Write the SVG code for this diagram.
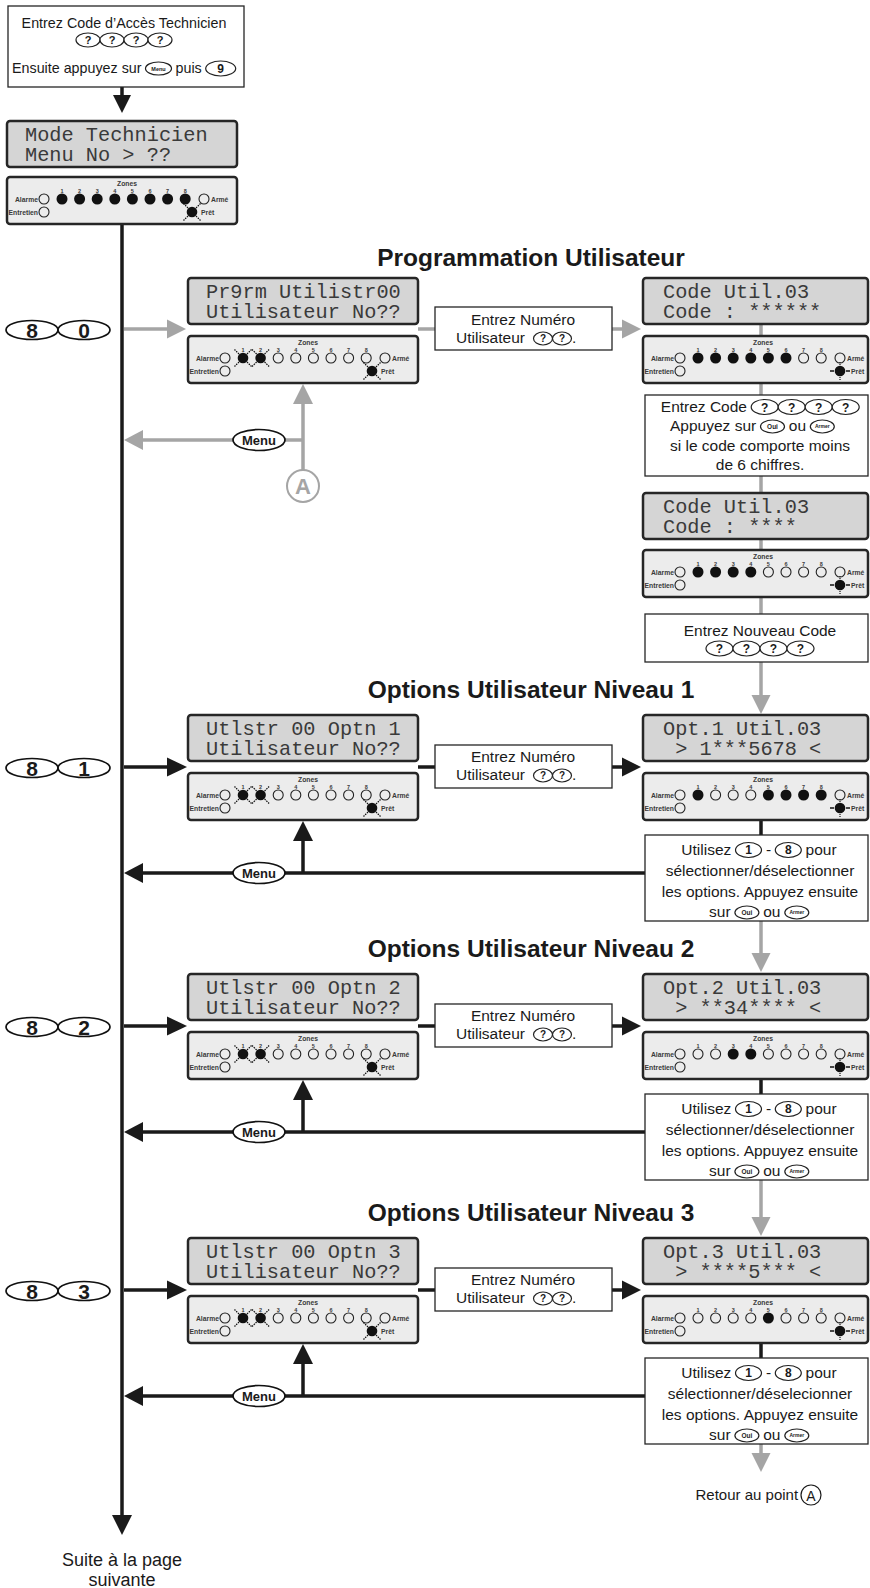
<svg xmlns="http://www.w3.org/2000/svg" width="870" height="1588" viewBox="0 0 870 1588">
<style>
.lcd{fill:#d5d5d5;stroke:#262626;stroke-width:2.5}
.pnl{fill:#ececec;stroke:#262626;stroke-width:2.5}
.lt{font-family:"Liberation Mono","DejaVu Sans Mono",monospace;font-size:20.3px;fill:#3a3a3a}
.box{fill:#fff;stroke:#262626;stroke-width:1.3}
.t{font-family:"Liberation Sans",Arial,sans-serif;font-size:15.5px;fill:#1a1a1a}
.ttl{font-family:"Liberation Sans",Arial,sans-serif;font-size:24.5px;font-weight:bold;fill:#1a1a1a;text-anchor:middle}
.key{fill:#fff;stroke:#222;stroke-width:1.2}
.bk{fill:#fff;stroke:#111;stroke-width:1.7}
.kt{font-family:"Liberation Sans",Arial,sans-serif;font-weight:bold;fill:#1a1a1a;text-anchor:middle}
.pl{font-family:"Liberation Sans",Arial,sans-serif;font-size:6.8px;font-weight:bold;fill:#3a3a3a}
.zn{font-family:"Liberation Sans",Arial,sans-serif;font-size:5.5px;font-weight:bold;fill:#3a3a3a;text-anchor:middle}
.cb{stroke:#1a1a1a;stroke-width:3.5;fill:none}
.cg{stroke:#a5a5a5;stroke-width:3.5;fill:none}
.ab{fill:#1a1a1a}
.ag{fill:#a5a5a5}
.mid{text-anchor:middle}
</style>
<defs>
<g id="pb">
<text class="pl" x="120" y="9" text-anchor="middle">Zones</text>
<text class="zn" x="55" y="15.5">1</text><text class="zn" x="72.6" y="15.5">2</text><text class="zn" x="90.2" y="15.5">3</text><text class="zn" x="107.8" y="15.5">4</text><text class="zn" x="125.4" y="15.5">5</text><text class="zn" x="143" y="15.5">6</text><text class="zn" x="160.6" y="15.5">7</text><text class="zn" x="178.2" y="15.5">8</text>
<text class="pl" x="31" y="24.5" text-anchor="end">Alarme</text>
<circle cx="37" cy="22" r="5" fill="none" stroke="#222" stroke-width="1.1"/>
<circle cx="197" cy="22" r="5" fill="none" stroke="#222" stroke-width="1.1"/>
<text class="pl" x="204" y="24.5">Armé</text>
<text class="pl" x="31" y="37.5" text-anchor="end">Entretien</text>
<circle cx="37" cy="35" r="5" fill="none" stroke="#222" stroke-width="1.1"/>
</g>
<g id="lf"><circle r="5.5" fill="#111"/></g>
<g id="lo"><circle r="5" fill="none" stroke="#222" stroke-width="1.1"/></g>
<g id="lx"><circle r="5.3" fill="#111"/><path d="M-4,-4 L-8.5,-8.5 M4,-4 L8.5,-8.5 M-4,4 L-8.5,8.5 M4,4 L8.5,8.5" stroke="#111" stroke-width="1.2" stroke-dasharray="1.5,1"/></g>
<g id="ls"><circle r="5.3" fill="#111"/><path d="M-6,0 H-10 M6,0 H10" stroke="#111" stroke-width="1.5"/><path d="M0,-6 V-9.5 M0,6 V9.5" stroke="#111" stroke-width="1.2" stroke-dasharray="1,1"/></g>
</defs>

<g id="connectors">
<line class="cb" x1="122" y1="87" x2="122" y2="96"/>
<polygon class="ab" points="113,95 122,113 131,95"/>
<line class="cb" x1="122" y1="225" x2="122" y2="1517"/>
<polygon class="ab" points="112,1515 122,1535 132,1515"/>
<!-- row 80 -->
<line class="cg" x1="124" y1="329" x2="170" y2="329"/>
<polygon class="ag" points="167,319.5 186,329 167,338.5"/>
<line class="cg" x1="418" y1="329" x2="435" y2="329"/>
<line class="cg" x1="612" y1="329" x2="625" y2="329"/>
<polygon class="ag" points="622,319.5 641,329 622,338.5"/>
<line class="cg" x1="233" y1="440" x2="140" y2="440"/>
<polygon class="ag" points="143,430 124,440 143,450"/>
<line class="cg" x1="285" y1="440" x2="303" y2="440"/>
<line class="cg" x1="303" y1="470" x2="303" y2="400"/>
<polygon class="ag" points="293,404 303,384 313,404"/>
<line class="cg" x1="761" y1="324" x2="761" y2="336"/>
<line class="cg" x1="761" y1="383" x2="761" y2="395"/>
<line class="cg" x1="761" y1="476" x2="761" y2="493"/>
<line class="cg" x1="761" y1="539" x2="761" y2="550"/>
<line class="cg" x1="761" y1="597" x2="761" y2="614"/>
<line class="cg" x1="761" y1="662" x2="761" y2="698"/>
<polygon class="ag" points="751.5,695 761,714 770.5,695"/>
<!-- level 1 -->
<line class="cb" x1="124" y1="767" x2="170" y2="767"/>
<polygon class="ab" points="167,757.5 187,767 167,776.5"/>
<line class="cb" x1="418" y1="767" x2="435" y2="767"/>
<line class="cb" x1="612" y1="767" x2="625" y2="767"/>
<polygon class="ab" points="622,757.5 641,767 622,776.5"/>
<line class="cb" x1="761" y1="819" x2="761" y2="835"/>
<line class="cb" x1="233" y1="873" x2="140" y2="873"/>
<polygon class="ab" points="143,863 124,873 143,883"/>
<line class="cb" x1="285" y1="873" x2="645" y2="873"/>
<line class="cb" x1="303" y1="873" x2="303" y2="838"/>
<polygon class="ab" points="293,841 303,821 313,841"/>
<line class="cg" x1="761" y1="921" x2="761" y2="956"/>
<polygon class="ag" points="751.5,953 761,972 770.5,953"/>
<!-- level 2 -->
<line class="cb" x1="124" y1="1026" x2="170" y2="1026"/>
<polygon class="ab" points="167,1016.5 187,1026 167,1035.5"/>
<line class="cb" x1="418" y1="1026" x2="435" y2="1026"/>
<line class="cb" x1="612" y1="1026" x2="625" y2="1026"/>
<polygon class="ab" points="622,1016.5 641,1026 622,1035.5"/>
<line class="cb" x1="761" y1="1078" x2="761" y2="1094"/>
<line class="cb" x1="233" y1="1132" x2="140" y2="1132"/>
<polygon class="ab" points="143,1122 124,1132 143,1142"/>
<line class="cb" x1="285" y1="1132" x2="645" y2="1132"/>
<line class="cb" x1="303" y1="1132" x2="303" y2="1097"/>
<polygon class="ab" points="293,1100 303,1080 313,1100"/>
<line class="cg" x1="761" y1="1180" x2="761" y2="1220"/>
<polygon class="ag" points="751.5,1217 761,1236 770.5,1217"/>
<!-- level 3 -->
<line class="cb" x1="124" y1="1290" x2="170" y2="1290"/>
<polygon class="ab" points="167,1280.5 187,1290 167,1299.5"/>
<line class="cb" x1="418" y1="1290" x2="435" y2="1290"/>
<line class="cb" x1="612" y1="1290" x2="625" y2="1290"/>
<polygon class="ab" points="622,1280.5 641,1290 622,1299.5"/>
<line class="cb" x1="761" y1="1342" x2="761" y2="1358"/>
<line class="cb" x1="233" y1="1396" x2="140" y2="1396"/>
<polygon class="ab" points="143,1386 124,1396 143,1406"/>
<line class="cb" x1="285" y1="1396" x2="645" y2="1396"/>
<line class="cb" x1="303" y1="1396" x2="303" y2="1361"/>
<polygon class="ab" points="293,1364 303,1344 313,1364"/>
<line class="cg" x1="761" y1="1444" x2="761" y2="1456"/>
<polygon class="ag" points="751.5,1453 761,1472 770.5,1453"/>
</g>

<g id="start">
<rect class="box" x="8" y="6" width="236" height="81" stroke-width="1.6"/>
<text class="t mid" x="124" y="28" style="font-size:14.3px">Entrez Code d’Accès Technicien</text>
<ellipse class="key" cx="88" cy="40" rx="12" ry="7"/><ellipse class="key" cx="112" cy="40" rx="12" ry="7"/><ellipse class="key" cx="136" cy="40" rx="12" ry="7"/><ellipse class="key" cx="160" cy="40" rx="12" ry="7"/>
<text class="kt" x="88" y="44" font-size="11">?</text><text class="kt" x="112" y="44" font-size="11">?</text><text class="kt" x="136" y="44" font-size="11">?</text><text class="kt" x="160" y="44" font-size="11">?</text>
<text class="t" x="12" y="73" style="font-size:14.3px">Ensuite appuyez sur</text>
<ellipse class="key" cx="158.5" cy="68.5" rx="13" ry="6.5"/><text class="kt" x="158.5" y="70.5" font-size="5.5">Menu</text>
<text class="t" x="175.5" y="73" style="font-size:14.3px">puis</text>
<ellipse class="key" cx="220.7" cy="68.5" rx="15" ry="7.5"/><text class="kt" x="220.7" y="72.7" font-size="12">9</text>
</g>

<g id="lcd-tech">
<rect class="lcd" x="7" y="121" width="230" height="46" rx="3"/>
<text class="lt" x="25" y="141">Mode Technicien</text>
<text class="lt" x="25" y="161">Menu No &gt; ??</text>
</g>
<g id="led-tech" transform="translate(7,177)">
<rect class="pnl" width="230" height="47" rx="3"/>
<use href="#pb"/>
<use href="#lf" x="55" y="22"/><use href="#lf" x="72.6" y="22"/><use href="#lf" x="90.2" y="22"/><use href="#lf" x="107.8" y="22"/><use href="#lf" x="125.4" y="22"/><use href="#lf" x="143" y="22"/><use href="#lf" x="160.6" y="22"/><use href="#lf" x="178.2" y="22"/>
<use href="#lx" x="185" y="35"/><text class="pl" x="194" y="37.5">Prêt</text>
</g>

<g id="title-80"><text class="ttl" x="531" y="266">Programmation Utilisateur</text></g>
<g id="key-80">
<ellipse class="bk" cx="32" cy="330" rx="26" ry="9.5"/><ellipse class="bk" cx="84" cy="330" rx="26" ry="9.5"/>
<text class="kt" x="32" y="337.5" font-size="21">8</text><text class="kt" x="84" y="337.5" font-size="21">0</text>
</g>
<g id="lcd-80">
<rect class="lcd" x="188" y="278" width="230" height="46" rx="3"/>
<text class="lt" x="206" y="298">Pr9rm Utilistr00</text>
<text class="lt" x="206" y="318">Utilisateur No??</text>
</g>
<g id="led-80" transform="translate(188,336)">
<rect class="pnl" width="230" height="47" rx="3"/>
<use href="#pb"/>
<use href="#lx" x="55" y="22"/><use href="#lx" x="72.6" y="22"/><use href="#lo" x="90.2" y="22"/><use href="#lo" x="107.8" y="22"/><use href="#lo" x="125.4" y="22"/><use href="#lo" x="143" y="22"/><use href="#lo" x="160.6" y="22"/><use href="#lo" x="178.2" y="22"/>
<use href="#lx" x="184" y="35"/><text class="pl" x="193" y="37.5">Prêt</text>
</g>
<g id="num-80">
<rect class="box" x="435" y="307" width="177" height="43"/>
<text class="t mid" x="523" y="325">Entrez Numéro</text>
<text class="t" x="456" y="343">Utilisateur</text>
<ellipse class="key" cx="543" cy="338.5" rx="9.5" ry="6.5"/><ellipse class="key" cx="562" cy="338.5" rx="9.5" ry="6.5"/>
<text class="kt" x="543" y="342.3" font-size="10">?</text><text class="kt" x="562" y="342.3" font-size="10">?</text>
<text class="t" x="572" y="343">.</text>
</g>
<g id="menu-80"><ellipse class="bk" cx="259" cy="440" rx="26" ry="10.5"/><text class="kt" x="259" y="444.7" font-size="13">Menu</text></g>
<g id="point-a"><circle cx="303" cy="486" r="16" fill="#fff" stroke="#a5a5a5" stroke-width="2"/><text class="kt" x="303" y="494" font-size="22" style="fill:#a5a5a5">A</text></g>

<g id="lcd-code6">
<rect class="lcd" x="643" y="278" width="225" height="46" rx="3"/>
<text class="lt" x="663" y="298">Code Util.03</text>
<text class="lt" x="663" y="318">Code : ******</text>
</g>
<g id="led-code6" transform="translate(643,336)">
<rect class="pnl" width="225" height="47" rx="3"/>
<use href="#pb"/>
<use href="#lf" x="55" y="22"/><use href="#lf" x="72.6" y="22"/><use href="#lf" x="90.2" y="22"/><use href="#lf" x="107.8" y="22"/><use href="#lf" x="125.4" y="22"/><use href="#lf" x="143" y="22"/><use href="#lo" x="160.6" y="22"/><use href="#lo" x="178.2" y="22"/>
<use href="#ls" x="197" y="35"/><text class="pl" x="208" y="37.5">Prêt</text>
</g>
<g id="box-code">
<rect class="box" x="645" y="395" width="223" height="81"/>
<text class="t" x="660.8" y="412">Entrez Code</text>
<ellipse class="key" cx="764.7" cy="407" rx="13.5" ry="7.5"/><ellipse class="key" cx="791.7" cy="407" rx="13.5" ry="7.5"/><ellipse class="key" cx="818.7" cy="407" rx="13.5" ry="7.5"/><ellipse class="key" cx="845.7" cy="407" rx="13.5" ry="7.5"/>
<text class="kt" x="764.7" y="411.5" font-size="12">?</text><text class="kt" x="791.7" y="411.5" font-size="12">?</text><text class="kt" x="818.7" y="411.5" font-size="12">?</text><text class="kt" x="845.7" y="411.5" font-size="12">?</text>
<text class="t" x="670" y="431">Appuyez sur</text>
<ellipse class="key" cx="772.5" cy="426.5" rx="12" ry="6.5"/><text class="kt" x="772.5" y="428.8" font-size="6.5">Oui</text>
<text class="t" x="788.8" y="431">ou</text>
<ellipse class="key" cx="822.3" cy="426.5" rx="12" ry="6.5"/><text class="kt" x="822.3" y="428.3" font-size="5">Armer</text>
<text class="t mid" x="760" y="451">si le code comporte moins</text>
<text class="t mid" x="760" y="470">de 6 chiffres.</text>
</g>
<g id="lcd-code4">
<rect class="lcd" x="643" y="493" width="225" height="46" rx="3"/>
<text class="lt" x="663" y="513">Code Util.03</text>
<text class="lt" x="663" y="533">Code : ****</text>
</g>
<g id="led-code4" transform="translate(643,550)">
<rect class="pnl" width="225" height="47" rx="3"/>
<use href="#pb"/>
<use href="#lf" x="55" y="22"/><use href="#lf" x="72.6" y="22"/><use href="#lf" x="90.2" y="22"/><use href="#lf" x="107.8" y="22"/><use href="#lo" x="125.4" y="22"/><use href="#lo" x="143" y="22"/><use href="#lo" x="160.6" y="22"/><use href="#lo" x="178.2" y="22"/>
<use href="#ls" x="197" y="35"/><text class="pl" x="208" y="37.5">Prêt</text>
</g>
<g id="box-newcode">
<rect class="box" x="645" y="614" width="223" height="48"/>
<text class="t mid" x="760" y="636">Entrez Nouveau Code</text>
<ellipse class="key" cx="719.5" cy="648.5" rx="13.5" ry="7.5"/><ellipse class="key" cx="746.5" cy="648.5" rx="13.5" ry="7.5"/><ellipse class="key" cx="773.5" cy="648.5" rx="13.5" ry="7.5"/><ellipse class="key" cx="800.5" cy="648.5" rx="13.5" ry="7.5"/>
<text class="kt" x="719.5" y="653" font-size="12">?</text><text class="kt" x="746.5" y="653" font-size="12">?</text><text class="kt" x="773.5" y="653" font-size="12">?</text><text class="kt" x="800.5" y="653" font-size="12">?</text>
</g>

<g id="title-81"><text class="ttl" x="531" y="698">Options Utilisateur Niveau 1</text></g>
<g id="key-81">
<ellipse class="bk" cx="32" cy="768" rx="26" ry="9.5"/><ellipse class="bk" cx="84" cy="768" rx="26" ry="9.5"/>
<text class="kt" x="32" y="775.5" font-size="21">8</text><text class="kt" x="84" y="775.5" font-size="21">1</text>
</g>
<g id="lcd-81">
<rect class="lcd" x="188" y="715" width="230" height="46" rx="3"/>
<text class="lt" x="206" y="735">Utlstr 00 Optn 1</text>
<text class="lt" x="206" y="755">Utilisateur No??</text>
</g>
<g id="led-81" transform="translate(188,773)">
<rect class="pnl" width="230" height="47" rx="3"/>
<use href="#pb"/>
<use href="#lx" x="55" y="22"/><use href="#lx" x="72.6" y="22"/><use href="#lo" x="90.2" y="22"/><use href="#lo" x="107.8" y="22"/><use href="#lo" x="125.4" y="22"/><use href="#lo" x="143" y="22"/><use href="#lo" x="160.6" y="22"/><use href="#lo" x="178.2" y="22"/>
<use href="#lx" x="184" y="35"/><text class="pl" x="193" y="37.5">Prêt</text>
</g>
<g id="num-81">
<rect class="box" x="435" y="745" width="177" height="43"/>
<text class="t mid" x="523" y="762">Entrez Numéro</text>
<text class="t" x="456" y="780">Utilisateur</text>
<ellipse class="key" cx="543" cy="775.5" rx="9.5" ry="6.5"/><ellipse class="key" cx="562" cy="775.5" rx="9.5" ry="6.5"/>
<text class="kt" x="543" y="779.3" font-size="10">?</text><text class="kt" x="562" y="779.3" font-size="10">?</text>
<text class="t" x="572" y="780">.</text>
</g>
<g id="menu-81"><ellipse class="bk" cx="259" cy="873" rx="26" ry="10.5"/><text class="kt" x="259" y="877.7" font-size="13">Menu</text></g>
<g id="lcd-opt1">
<rect class="lcd" x="643" y="715" width="225" height="46" rx="3"/>
<text class="lt" x="663" y="735">Opt.1 Util.03</text>
<text class="lt" x="675.2" y="755">&gt; 1***5678 &lt;</text>
</g>
<g id="led-opt1" transform="translate(643,773)">
<rect class="pnl" width="225" height="47" rx="3"/>
<use href="#pb"/>
<use href="#lf" x="55" y="22"/><use href="#lo" x="72.6" y="22"/><use href="#lo" x="90.2" y="22"/><use href="#lo" x="107.8" y="22"/><use href="#lf" x="125.4" y="22"/><use href="#lf" x="143" y="22"/><use href="#lf" x="160.6" y="22"/><use href="#lf" x="178.2" y="22"/>
<use href="#ls" x="197" y="35"/><text class="pl" x="208" y="37.5">Prêt</text>
</g>
<g id="box-opt1">
<rect class="box" x="645" y="835" width="223" height="86"/>
<text class="t" x="681.3" y="855">Utilisez</text>
<ellipse class="key" cx="748.5" cy="850" rx="13" ry="7.5"/><text class="kt" x="748.5" y="854.3" font-size="12">1</text>
<text class="t" x="765.9" y="855">-</text>
<ellipse class="key" cx="788.3" cy="850" rx="13" ry="7.5"/><text class="kt" x="788.3" y="854.3" font-size="12">8</text>
<text class="t" x="805.6" y="855">pour</text>
<text class="t mid" x="760" y="876">sélectionner/déselectionner</text>
<text class="t mid" x="760" y="897">les options. Appuyez ensuite</text>
<text class="t" x="709.1" y="917">sur</text>
<ellipse class="key" cx="746.9" cy="912.5" rx="12" ry="6.5"/><text class="kt" x="746.9" y="914.8" font-size="6.5">Oui</text>
<text class="t" x="763.2" y="917">ou</text>
<ellipse class="key" cx="796.8" cy="912.5" rx="12" ry="6.5"/><text class="kt" x="796.8" y="914.3" font-size="5">Armer</text>
</g>

<g id="title-82"><text class="ttl" x="531" y="957">Options Utilisateur Niveau 2</text></g>
<g id="key-82">
<ellipse class="bk" cx="32" cy="1027" rx="26" ry="9.5"/><ellipse class="bk" cx="84" cy="1027" rx="26" ry="9.5"/>
<text class="kt" x="32" y="1034.5" font-size="21">8</text><text class="kt" x="84" y="1034.5" font-size="21">2</text>
</g>
<g id="lcd-82">
<rect class="lcd" x="188" y="974" width="230" height="46" rx="3"/>
<text class="lt" x="206" y="994">Utlstr 00 Optn 2</text>
<text class="lt" x="206" y="1014">Utilisateur No??</text>
</g>
<g id="led-82" transform="translate(188,1032)">
<rect class="pnl" width="230" height="47" rx="3"/>
<use href="#pb"/>
<use href="#lx" x="55" y="22"/><use href="#lx" x="72.6" y="22"/><use href="#lo" x="90.2" y="22"/><use href="#lo" x="107.8" y="22"/><use href="#lo" x="125.4" y="22"/><use href="#lo" x="143" y="22"/><use href="#lo" x="160.6" y="22"/><use href="#lo" x="178.2" y="22"/>
<use href="#lx" x="184" y="35"/><text class="pl" x="193" y="37.5">Prêt</text>
</g>
<g id="num-82">
<rect class="box" x="435" y="1004" width="177" height="43"/>
<text class="t mid" x="523" y="1021">Entrez Numéro</text>
<text class="t" x="456" y="1039">Utilisateur</text>
<ellipse class="key" cx="543" cy="1034.5" rx="9.5" ry="6.5"/><ellipse class="key" cx="562" cy="1034.5" rx="9.5" ry="6.5"/>
<text class="kt" x="543" y="1038.3" font-size="10">?</text><text class="kt" x="562" y="1038.3" font-size="10">?</text>
<text class="t" x="572" y="1039">.</text>
</g>
<g id="menu-82"><ellipse class="bk" cx="259" cy="1132" rx="26" ry="10.5"/><text class="kt" x="259" y="1136.7" font-size="13">Menu</text></g>
<g id="lcd-opt2">
<rect class="lcd" x="643" y="974" width="225" height="46" rx="3"/>
<text class="lt" x="663" y="994">Opt.2 Util.03</text>
<text class="lt" x="675.2" y="1014">&gt; **34**** &lt;</text>
</g>
<g id="led-opt2" transform="translate(643,1032)">
<rect class="pnl" width="225" height="47" rx="3"/>
<use href="#pb"/>
<use href="#lo" x="55" y="22"/><use href="#lo" x="72.6" y="22"/><use href="#lf" x="90.2" y="22"/><use href="#lf" x="107.8" y="22"/><use href="#lo" x="125.4" y="22"/><use href="#lo" x="143" y="22"/><use href="#lo" x="160.6" y="22"/><use href="#lo" x="178.2" y="22"/>
<use href="#ls" x="197" y="35"/><text class="pl" x="208" y="37.5">Prêt</text>
</g>
<g id="box-opt2">
<rect class="box" x="645" y="1094" width="223" height="86"/>
<text class="t" x="681.3" y="1114">Utilisez</text>
<ellipse class="key" cx="748.5" cy="1109" rx="13" ry="7.5"/><text class="kt" x="748.5" y="1113.3" font-size="12">1</text>
<text class="t" x="765.9" y="1114">-</text>
<ellipse class="key" cx="788.3" cy="1109" rx="13" ry="7.5"/><text class="kt" x="788.3" y="1113.3" font-size="12">8</text>
<text class="t" x="805.6" y="1114">pour</text>
<text class="t mid" x="760" y="1135">sélectionner/déselectionner</text>
<text class="t mid" x="760" y="1156">les options. Appuyez ensuite</text>
<text class="t" x="709.1" y="1176">sur</text>
<ellipse class="key" cx="746.9" cy="1171.5" rx="12" ry="6.5"/><text class="kt" x="746.9" y="1173.8" font-size="6.5">Oui</text>
<text class="t" x="763.2" y="1176">ou</text>
<ellipse class="key" cx="796.8" cy="1171.5" rx="12" ry="6.5"/><text class="kt" x="796.8" y="1173.3" font-size="5">Armer</text>
</g>

<g id="title-83"><text class="ttl" x="531" y="1221">Options Utilisateur Niveau 3</text></g>
<g id="key-83">
<ellipse class="bk" cx="32" cy="1291" rx="26" ry="9.5"/><ellipse class="bk" cx="84" cy="1291" rx="26" ry="9.5"/>
<text class="kt" x="32" y="1298.5" font-size="21">8</text><text class="kt" x="84" y="1298.5" font-size="21">3</text>
</g>
<g id="lcd-83">
<rect class="lcd" x="188" y="1238" width="230" height="46" rx="3"/>
<text class="lt" x="206" y="1258">Utlstr 00 Optn 3</text>
<text class="lt" x="206" y="1278">Utilisateur No??</text>
</g>
<g id="led-83" transform="translate(188,1296)">
<rect class="pnl" width="230" height="47" rx="3"/>
<use href="#pb"/>
<use href="#lx" x="55" y="22"/><use href="#lx" x="72.6" y="22"/><use href="#lo" x="90.2" y="22"/><use href="#lo" x="107.8" y="22"/><use href="#lo" x="125.4" y="22"/><use href="#lo" x="143" y="22"/><use href="#lo" x="160.6" y="22"/><use href="#lo" x="178.2" y="22"/>
<use href="#lx" x="184" y="35"/><text class="pl" x="193" y="37.5">Prêt</text>
</g>
<g id="num-83">
<rect class="box" x="435" y="1268" width="177" height="43"/>
<text class="t mid" x="523" y="1285">Entrez Numéro</text>
<text class="t" x="456" y="1303">Utilisateur</text>
<ellipse class="key" cx="543" cy="1298.5" rx="9.5" ry="6.5"/><ellipse class="key" cx="562" cy="1298.5" rx="9.5" ry="6.5"/>
<text class="kt" x="543" y="1302.3" font-size="10">?</text><text class="kt" x="562" y="1302.3" font-size="10">?</text>
<text class="t" x="572" y="1303">.</text>
</g>
<g id="menu-83"><ellipse class="bk" cx="259" cy="1396" rx="26" ry="10.5"/><text class="kt" x="259" y="1400.7" font-size="13">Menu</text></g>
<g id="lcd-opt3">
<rect class="lcd" x="643" y="1238" width="225" height="46" rx="3"/>
<text class="lt" x="663" y="1258">Opt.3 Util.03</text>
<text class="lt" x="675.2" y="1278">&gt; ****5*** &lt;</text>
</g>
<g id="led-opt3" transform="translate(643,1296)">
<rect class="pnl" width="225" height="47" rx="3"/>
<use href="#pb"/>
<use href="#lo" x="55" y="22"/><use href="#lo" x="72.6" y="22"/><use href="#lo" x="90.2" y="22"/><use href="#lo" x="107.8" y="22"/><use href="#lf" x="125.4" y="22"/><use href="#lo" x="143" y="22"/><use href="#lo" x="160.6" y="22"/><use href="#lo" x="178.2" y="22"/>
<use href="#ls" x="197" y="35"/><text class="pl" x="208" y="37.5">Prêt</text>
</g>
<g id="box-opt3">
<rect class="box" x="645" y="1358" width="223" height="86"/>
<text class="t" x="681.3" y="1378">Utilisez</text>
<ellipse class="key" cx="748.5" cy="1373" rx="13" ry="7.5"/><text class="kt" x="748.5" y="1377.3" font-size="12">1</text>
<text class="t" x="765.9" y="1378">-</text>
<ellipse class="key" cx="788.3" cy="1373" rx="13" ry="7.5"/><text class="kt" x="788.3" y="1377.3" font-size="12">8</text>
<text class="t" x="805.6" y="1378">pour</text>
<text class="t mid" x="760" y="1399">sélectionner/déselecionner</text>
<text class="t mid" x="760" y="1420">les options. Appuyez ensuite</text>
<text class="t" x="709.1" y="1440">sur</text>
<ellipse class="key" cx="746.9" cy="1435.5" rx="12" ry="6.5"/><text class="kt" x="746.9" y="1437.8" font-size="6.5">Oui</text>
<text class="t" x="763.2" y="1440">ou</text>
<ellipse class="key" cx="796.8" cy="1435.5" rx="12" ry="6.5"/><text class="kt" x="796.8" y="1437.3" font-size="5">Armer</text>
</g>

<g id="retour">
<text class="t" x="695.5" y="1500" style="font-size:15px">Retour au point</text>
<circle cx="811" cy="1495" r="10" fill="#fff" stroke="#1a1a1a" stroke-width="1.2"/>
<text class="t mid" x="811" y="1500.5" style="font-size:14px">A</text>
</g>
<g id="suite">
<text class="t mid" x="122" y="1566" style="font-size:18px">Suite à la page</text>
<text class="t mid" x="122" y="1586" style="font-size:18px">suivante</text>
</g>
</svg>
